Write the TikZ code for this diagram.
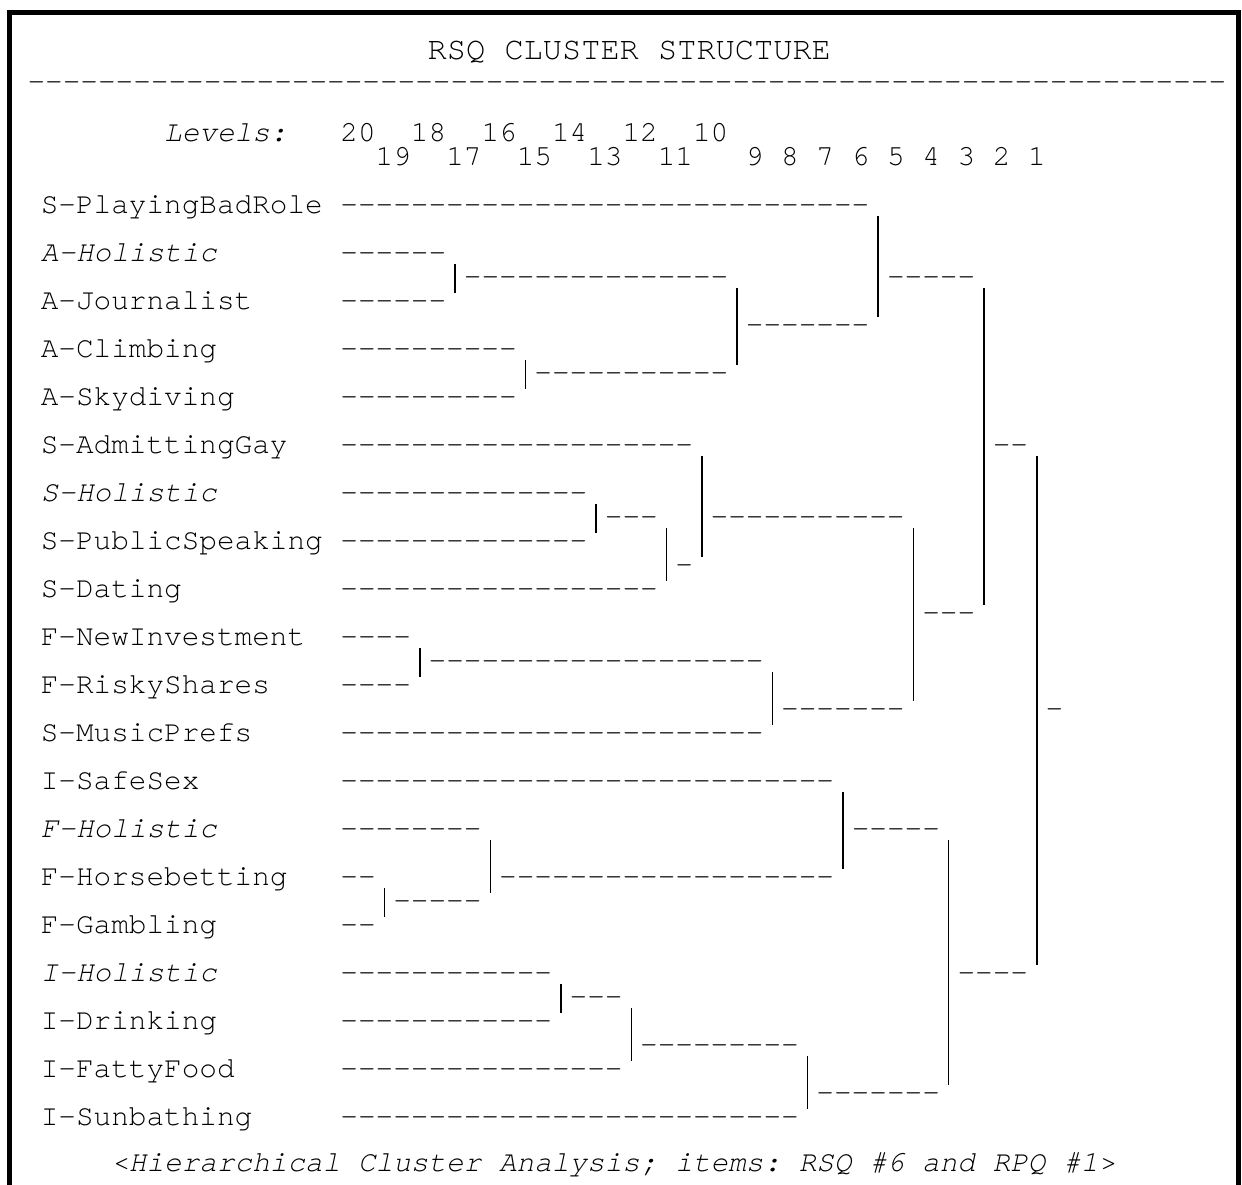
\documentclass[tikz,border=0pt]{standalone}
\usepackage{fontspec}
\newfontfamily\cur{texgyrecursor}[Extension=.otf,UprightFont=*-regular,ItalicFont=*-italic,BoldFont=*-bold,BoldItalicFont=*-bolditalic]
\frenchspacing
\newcommand\hyrun[1]{\ifnum#1>0 \hbox{-}\expandafter\hyrun\expandafter{\the\numexpr#1-1\relax}\fi}
\newcommand\drun[4]{\node[txt] (#1) at ({5.5+17.63*#3},{213.6+24*#2}) {\expandafter\hyrun\expandafter{\the\numexpr#4-#3+1\relax}};}
\newcommand\vbar[4]{%
  \coordinate (#1t) at ({5.5+17.63*(#2+0.5)},{206+24*#3-14.2});
  \coordinate (#1b) at ({5.5+17.63*(#2+0.5)},{206+24*#4+15.1});
  \draw[barline] (#1t) -- (#1b);}
\newcommand\lab[4]{\node[#1] (#2) at ({5.5+17.63*2},{213.6+48*#3}) {#4};}
\begin{document}
\begin{tikzpicture}[x=1pt,y=-1pt,
  txt/.style={anchor=base west,inner sep=0pt,outer sep=0pt,font=\cur\fontsize{29.38}{30}\selectfont},
  itx/.style={txt,font=\cur\itshape\fontsize{29.38}{30}\selectfont},
  barline/.style={line width=1.5pt,line cap=butt},
  outerframe/.style={line width=5pt,line join=miter}]
\useasboundingbox (0,0) rectangle (1242,1185);
\fill[white] (0,0) rectangle (1242,1185);
\draw[outerframe] (9.3,1185) -- (9.3,12.5) -- (1238.5,12.5) -- (1238.5,1185);
% title and rule
\node[anchor=base west,inner sep=0pt,font=\cur\fontsize{32}{34}\selectfont] (title) at (427.5,60) {RSQ CLUSTER STRUCTURE};
\node[txt] (rule) at (27.5,90.9) {\hyrun{68}};
% levels
\node[itx] (lev) at ({5.5+17.63*9},141.6) {Levels:};
\foreach \n/\c in {20/19,18/23,16/27,14/31,12/35,10/39}
  \node[txt] (lv\n) at ({5.5+17.63*\c},141.6) {\n};
\foreach \n/\c in {19/21,17/25,15/29,13/33,11/37,9/42,8/44,7/46,6/48,5/50,4/52,3/54,2/56,1/58}
  \node[txt] (lv\n) at ({5.5+17.63*\c},165.6) {\n};
% labels
\lab{txt}{l0}{0}{S-PlayingBadRole}
\lab{itx}{l1}{1}{A-Holistic}
\lab{txt}{l2}{2}{A-Journalist}
\lab{txt}{l3}{3}{A-Climbing}
\lab{txt}{l4}{4}{A-Skydiving}
\lab{txt}{l5}{5}{S-AdmittingGay}
\lab{itx}{l6}{6}{S-Holistic}
\lab{txt}{l7}{7}{S-PublicSpeaking}
\lab{txt}{l8}{8}{S-Dating}
\lab{txt}{l9}{9}{F-NewInvestment}
\lab{txt}{l10}{10}{F-RiskyShares}
\lab{txt}{l11}{11}{S-MusicPrefs}
\lab{txt}{l12}{12}{I-SafeSex}
\lab{itx}{l13}{13}{F-Holistic}
\lab{txt}{l14}{14}{F-Horsebetting}
\lab{txt}{l15}{15}{F-Gambling}
\lab{itx}{l16}{16}{I-Holistic}
\lab{txt}{l17}{17}{I-Drinking}
\lab{txt}{l18}{18}{I-FattyFood}
\lab{txt}{l19}{19}{I-Sunbathing}
% leaf dashes
\drun{r0}{0}{19}{48}
\drun{r1}{2}{19}{24}
\drun{r2}{4}{19}{24}
\drun{r3}{6}{19}{28}
\drun{r4}{8}{19}{28}
\drun{r5}{10}{19}{38}
\drun{r6}{12}{19}{32}
\drun{r7}{14}{19}{32}
\drun{r8}{16}{19}{36}
\drun{r9}{18}{19}{22}
\drun{r10}{20}{19}{22}
\drun{r11}{22}{19}{42}
\drun{r12}{24}{19}{46}
\drun{r13}{26}{19}{26}
\drun{r14}{28}{19}{20}
\drun{r15}{30}{19}{20}
\drun{r16}{32}{19}{30}
\drun{r17}{34}{19}{30}
\drun{r18}{36}{19}{34}
\drun{r19}{38}{19}{44}
% merges
\vbar{b1}{25}{3}{3}   \drun{m1}{3}{26}{40}
\vbar{b2}{29}{7}{7}   \drun{m2}{7}{30}{40}
\vbar{b3}{41}{4}{6}   \drun{m3}{5}{42}{48}
\vbar{b4}{49}{1}{4}   \drun{m4}{3}{50}{54}
\vbar{b5}{33}{13}{13} \drun{m5}{13}{34}{36}
\vbar{b6}{37}{14}{15} \drun{m6}{15}{38}{38}
\vbar{b7}{39}{11}{14} \drun{m7}{13}{40}{50}
\vbar{b8}{23}{19}{19} \drun{m8}{19}{24}{42}
\vbar{b9}{43}{20}{21} \drun{m9}{21}{44}{50}
\vbar{b10}{51}{14}{20} \drun{m10}{17}{52}{54}
\vbar{b11}{55}{4}{16} \drun{m11}{10}{56}{57}
\vbar{b12}{21}{29}{29} \drun{m12}{29}{22}{26}
\vbar{b13}{27}{27}{28} \drun{m13}{28}{28}{46}
\vbar{b14}{47}{25}{27} \drun{m14}{26}{48}{52}
\vbar{b15}{31}{33}{33} \drun{m15}{33}{32}{34}
\vbar{b16}{35}{34}{35} \drun{m16}{35}{36}{44}
\vbar{b17}{45}{36}{37} \drun{m17}{37}{46}{52}
\vbar{b18}{53}{27}{36} \drun{m18}{32}{54}{57}
\vbar{b19}{58}{11}{31} \drun{m19}{21}{59}{59}
% footer
\node[itx] (foot) at ({5.5+17.63*6},1171) {<Hierarchical Cluster Analysis; items: RSQ \#6 and RPQ \#1>};
\end{tikzpicture}
\end{document}
